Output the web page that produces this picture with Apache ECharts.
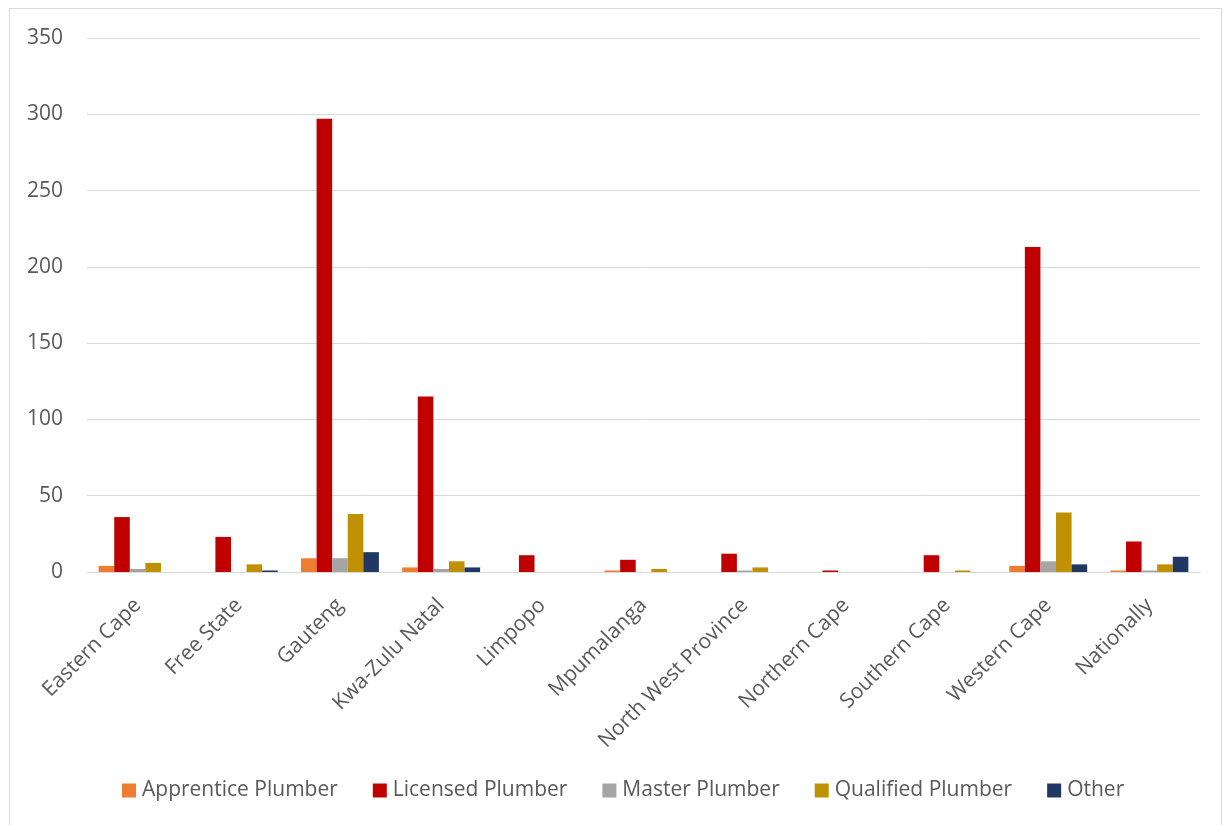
<!DOCTYPE html>
<html>
<head>
<meta charset="utf-8">
<script src="https://cdn.jsdelivr.net/npm/echarts@6/dist/echarts.min.js"></script>
<style>
  html, body { margin: 0; padding: 0; background: #ffffff; }
  #chart { width: 1228px; height: 825px; }
  #frame { position: absolute; left: 9px; top: 8px; width: 1211px; height: 830px; border: 1px solid #d9d9d9; pointer-events: none; }
</style>
</head>
<body>
<div id="chart"></div>
<div id="frame"></div>
<script>
// Plumber registrations by province and plumber category
const provinces = ['Eastern Cape', 'Free State', 'Gauteng', 'Kwa-Zulu Natal', 'Limpopo', 'Mpumalanga',
  'North West Province', 'Northern Cape', 'Southern Cape', 'Western Cape', 'Nationally'];
const apprentice = [4, 0, 9, 3, 0, 1, 0, 0, 0, 4, 1];
const licensed   = [36, 23, 297, 115, 11, 8, 12, 1, 11, 213, 20];
const master     = [2, 0, 9, 2, 0, 0, 1, 0, 0, 7, 1];
const qualified  = [6, 5, 38, 7, 0, 2, 3, 0, 1, 39, 5];
const other      = [0, 1, 13, 3, 0, 0, 0, 0, 0, 5, 10];
const yTicks = [0, 50, 100, 150, 200, 250, 300, 350];

const FONT = 'Open Sans';
const TEXT = '#595959';

const chart = echarts.init(document.getElementById('chart'), null, { renderer: 'canvas' });

function bar(name, data, color) {
  return {
    name: name,
    type: 'bar',
    data: data,
    barGap: '0%',
    barCategoryGap: '23%',
    itemStyle: { color: color },
    emphasis: { disabled: true }
  };
}

chart.setOption({
  animation: false,
  backgroundColor: '#ffffff',
  textStyle: { fontFamily: FONT },
  grid: { left: 87, right: 28, top: 38, bottom: 253, containLabel: false },
  legend: {
    top: 775,
    left: 117,
    itemWidth: 14,
    itemHeight: 14,
    itemGap: 35,
    icon: 'rect',
    textStyle: { fontFamily: FONT, fontSize: 21, color: TEXT, padding: [0, 0, 0, 1] },
    data: ['Apprentice Plumber', 'Licensed Plumber', 'Master Plumber', 'Qualified Plumber', 'Other']
  },
  xAxis: {
    type: 'category',
    data: provinces,
    axisLine: { show: true, lineStyle: { color: '#d9d9d9', width: 1 } },
    axisTick: { show: false },
    axisLabel: { rotate: 45, margin: 30, fontFamily: FONT, fontSize: 21, color: TEXT, interval: 0 }
  },
  yAxis: {
    type: 'value',
    min: yTicks[0],
    max: yTicks[yTicks.length - 1],
    interval: yTicks[1] - yTicks[0],
    axisLine: { show: false },
    axisTick: { show: false },
    splitLine: { lineStyle: { color: '#d9d9d9', width: 1 } },
    axisLabel: { margin: 24, fontFamily: FONT, fontSize: 21, color: TEXT }
  },
  series: [
    bar('Apprentice Plumber', apprentice, '#ED7D31'),
    bar('Licensed Plumber', licensed, '#C00000'),
    bar('Master Plumber', master, '#A5A5A5'),
    bar('Qualified Plumber', qualified, '#BF9000'),
    bar('Other', other, '#1F3864')
  ]
});
</script>
</body>
</html>
